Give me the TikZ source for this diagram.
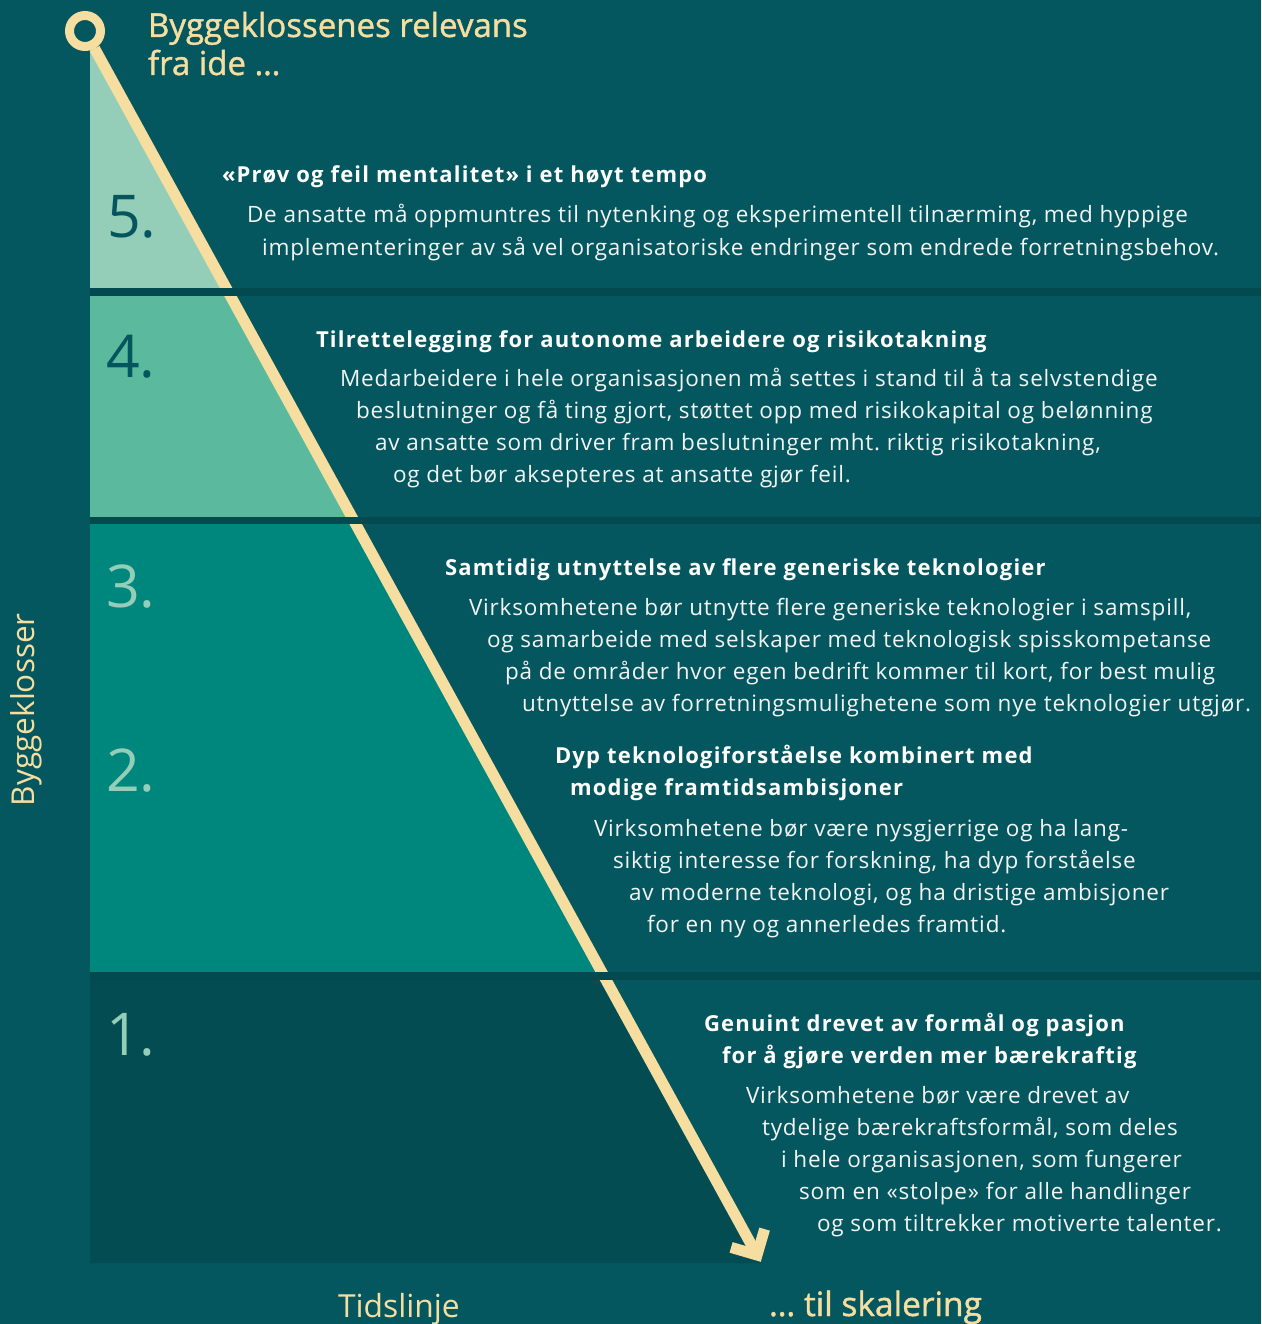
\documentclass[tikz,border=0pt]{standalone}
\usepackage{fontspec}
\setmainfont{Open Sans}
\newfontfamily\semib[FakeBold=1.2]{Open Sans}
\newfontfamily\bodyfont[LetterSpace=3.7]{Open Sans}
\newfontfamily\headfont[LetterSpace=5.5]{Open Sans}
\usetikzlibrary{calc}
\frenchspacing
\definecolor{bg}{HTML}{04575F}
\definecolor{sepc}{HTML}{034A50}
\definecolor{darkone}{HTML}{034C52}
\definecolor{mint}{HTML}{94CEB8}
\definecolor{greenfour}{HTML}{5BBA9D}
\definecolor{tealthree}{HTML}{00877D}
\definecolor{cream}{HTML}{F6DEA0}
\definecolor{numdark}{HTML}{04555E}
\definecolor{bodytxt}{HTML}{F2F5F4}
\tikzset{
  bodyline/.style={anchor=base west, inner sep=0pt, outer sep=0pt, text=bodytxt, font=\bodyfont\fontsize{22.5}{26}\selectfont},
  headline/.style={anchor=base west, inner sep=0pt, outer sep=0pt, text=white, font=\headfont\fontsize{22}{26}\selectfont\bfseries},
  numlabel/.style={anchor=base west, inner sep=0pt, outer sep=0pt, font=\fontsize{59}{64}\selectfont},
  creamtext/.style={inner sep=0pt, outer sep=0pt, text=cream},
  arrowline/.style={draw=cream, line width=11pt},
  sepbar/.style={fill=sepc}
}
\begin{document}
\begin{tikzpicture}[x=1pt,y=-1pt]
\fill[bg] (0,0) rectangle (1261,1324);
\useasboundingbox (0,0) rectangle (1261,1324);
% bands
\fill[mint] (90,40) -- (90,288) -- (226,288) -- cycle;
\fill[greenfour] (90,296) -- (90,517) -- (352,517) -- (230.4,296) -- cycle;
\fill[tealthree] (90,524) -- (90,972) -- (601.5,972) -- (356,524) -- cycle;
\fill[darkone] (90,972) -- (90,1263) -- (761,1263) -- (601.5,972) -- cycle;
% time line
\node[circle, draw=cream, line width=9pt, minimum size=31pt, inner sep=0pt] (ring) at (85,31) {};
\coordinate (V) at (757,1255);
\coordinate (wa) at ($(V)+(7.6,-25.9)$);
\coordinate (wb) at ($(V)+(-25.9,-7.6)$);
\draw[arrowline] (ring) -- (V);
% separators
\fill[sepbar] (90,288) rectangle (1261,296);
\fill[sepbar] (90,517) rectangle (1261,524);
\fill[sepbar] (90,972) rectangle (1261,980);
% arrow head
\draw[arrowline, line join=miter, line cap=butt] (wa) -- (V) -- (wb);
% titles
\node[creamtext, anchor=base west, font=\semib\fontsize{33}{38}\selectfont] (title1) at (148,37) {Byggeklossenes relevans};
\node[creamtext, anchor=base west, font=\semib\fontsize{33}{38}\selectfont] (title2) at (148,75) {fra ide \dots};
\node[creamtext, anchor=base west, rotate=90, font=\fontsize{31.5}{36}\selectfont] (ylab) at (34,806) {Byggeklosser};
\node[creamtext, anchor=base west, font=\fontsize{31.8}{36}\selectfont] (xlab) at (338,1317) {Tidslinje};
\node[creamtext, anchor=base west, font=\semib\fontsize{33.5}{38}\selectfont] (xend) at (769,1316) {\dots\ til skalering};
% numbers
\node[numlabel, text=numdark] (n5) at (107,238) {5.};
\node[numlabel, text=numdark] (n4) at (106,377) {4.};
\node[numlabel, text=mint] (n3) at (106,607) {3.};
\node[numlabel, text=mint] (n2) at (106,791) {2.};
\node[numlabel, text=mint] (n1) at (106,1055) {1.};
% band 5
\node[headline] (h5) at (222,183) {«Prøv og feil mentalitet» i et høyt tempo};
\node[bodyline] (b5a) at (247,223) {De ansatte må oppmuntres til nytenking og eksperimentell tilnærming, med hyppige};
\node[bodyline] (b5b) at (262,255) {implementeringer av så vel organisatoriske endringer som endrede forretningsbehov.};
% band 4
\node[headline] (h4) at (316,347) {Tilrettelegging for autonome arbeidere og risikotakning};
\node[bodyline] (b4a) at (340,386) {Medarbeidere i hele organisasjonen må settes i stand til å ta selvstendige};
\node[bodyline] (b4b) at (356,418) {beslutninger og få ting gjort, støttet opp med risikokapital og belønning};
\node[bodyline] (b4c) at (375,450) {av ansatte som driver fram beslutninger mht. riktig risikotakning,};
\node[bodyline] (b4d) at (393,482) {og det bør aksepteres at ansatte gjør feil.};
% band 3
\node[headline] (h3) at (445,575) {Samtidig utnyttelse av flere generiske teknologier};
\node[bodyline] (b3a) at (469,615) {Virksomhetene bør utnytte flere generiske teknologier i samspill,};
\node[bodyline] (b3b) at (487,647) {og samarbeide med selskaper med teknologisk spisskompetanse};
\node[bodyline] (b3c) at (505,679) {på de områder hvor egen bedrift kommer til kort, for best mulig};
\node[bodyline] (b3d) at (522,711) {utnyttelse av forretningsmulighetene som nye teknologier utgjør.};
% band 2
\node[headline] (h2a) at (555,763) {Dyp teknologiforståelse kombinert med};
\node[headline] (h2b) at (570,795) {modige framtidsambisjoner};
\node[bodyline] (b2a) at (594,836) {Virksomhetene bør være nysgjerrige og ha lang-};
\node[bodyline] (b2b) at (613,868) {siktig interesse for forskning, ha dyp forståelse};
\node[bodyline] (b2c) at (629,900) {av moderne teknologi, og ha dristige ambisjoner};
\node[bodyline] (b2d) at (647,932) {for en ny og annerledes framtid.};
% band 1
\node[headline] (h1a) at (704,1031) {Genuint drevet av formål og pasjon};
\node[headline] (h1b) at (722,1063) {for å gjøre verden mer bærekraftig};
\node[bodyline] (b1a) at (746,1103) {Virksomhetene bør være drevet av};
\node[bodyline] (b1b) at (762,1135) {tydelige bærekraftsformål, som deles};
\node[bodyline] (b1c) at (781,1167) {i hele organisasjonen, som fungerer};
\node[bodyline] (b1d) at (799,1199) {som en «stolpe» for alle handlinger};
\node[bodyline] (b1e) at (817,1231) {og som tiltrekker motiverte talenter.};
\end{tikzpicture}
\end{document}
